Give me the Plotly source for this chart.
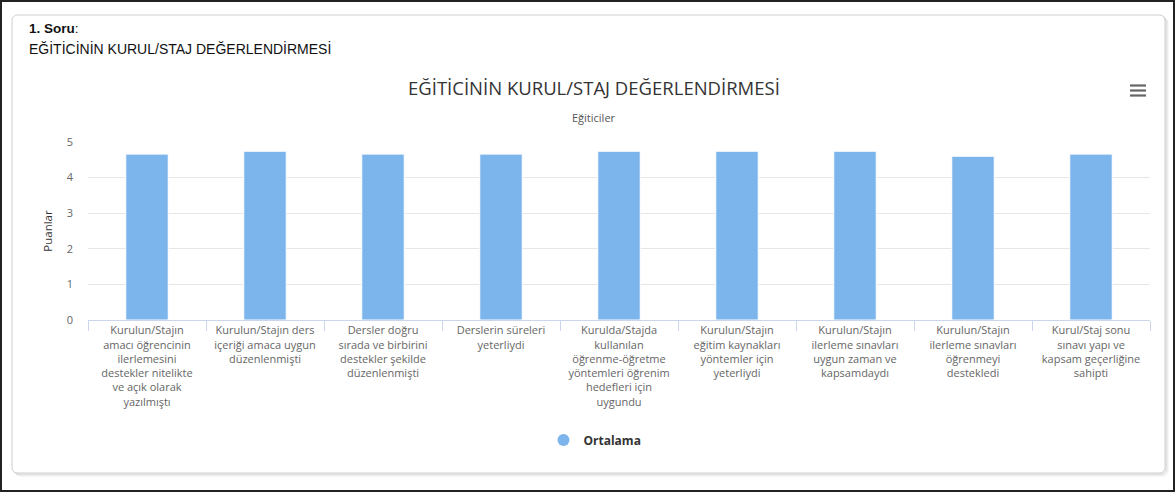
import plotly.graph_objects as go

categories = [
    "Kurulun/Stajın<br>amacı öğrencinin<br>ilerlemesini<br>destekler nitelikte<br>ve açık olarak<br>yazılmıştı",
    "Kurulun/Stajın ders<br>içeriği amaca uygun<br>düzenlenmişti",
    "Dersler doğru<br>sırada ve birbirini<br>destekler şekilde<br>düzenlenmişti",
    "Derslerin süreleri<br>yeterliydi",
    "Kurulda/Stajda<br>kullanılan<br>öğrenme-öğretme<br>yöntemleri öğrenim<br>hedefleri için<br>uygundu",
    "Kurulun/Stajın<br>eğitim kaynakları<br>yöntemler için<br>yeterliydi",
    "Kurulun/Stajın<br>ilerleme sınavları<br>uygun zaman ve<br>kapsamdaydı",
    "Kurulun/Stajın<br>ilerleme sınavları<br>öğrenmeyi<br>destekledi",
    "Kurul/Staj sonu<br>sınavı yapı ve<br>kapsam geçerliğine<br>sahipti",
]
ortalama = [4.66, 4.74, 4.66, 4.66, 4.74, 4.74, 4.74, 4.60, 4.66]
y_ticks = [0, 1, 2, 3, 4, 5]

W, H = 1176, 495
L, R, T, B = 88, 26, 142, 175
PW, PH = W - L - R, H - T - B

def px(x):
    return (x - L) / PW

def py(y):
    return (H - B - y) / PH

BAR = "#7cb5ec"
FONT = "Open Sans"

fig = go.Figure()
fig.add_trace(go.Bar(
    x=categories, y=ortalama, name="Ortalama", marker_color=BAR,
    marker_line_color="white", marker_line_width=1, showlegend=False,
    hovertemplate="%{y}<extra>Ortalama</extra>",
))
fig.add_trace(go.Scatter(
    x=[None], y=[None], mode="markers", name="Ortalama",
    marker=dict(color=BAR, size=12, symbol="circle"), showlegend=True,
))

def rrect(x0, y0, x1, y1, r):
    pts = [
        f"M {px(x0 + r)},{py(y0)}",
        f"L {px(x1 - r)},{py(y0)}",
        f"Q {px(x1)},{py(y0)} {px(x1)},{py(y0 + r)}",
        f"L {px(x1)},{py(y1 - r)}",
        f"Q {px(x1)},{py(y1)} {px(x1 - r)},{py(y1)}",
        f"L {px(x0 + r)},{py(y1)}",
        f"Q {px(x0)},{py(y1)} {px(x0)},{py(y1 - r)}",
        f"L {px(x0)},{py(y0 + r)}",
        f"Q {px(x0)},{py(y0)} {px(x0 + r)},{py(y0)}",
        "Z",
    ]
    return " ".join(pts)

shapes = []
# outer black border
shapes.append(dict(type="rect", xref="paper", yref="paper", layer="below",
                   x0=px(1), y0=py(1), x1=px(1174), y1=py(491),
                   line=dict(color="#222222", width=2), fillcolor="white"))
# shadow of panel
for i, op in [(3, "#f0f0f0"), (2, "#e2e2e2"), (1, "#d4d4d4")]:
    shapes.append(dict(type="path", xref="paper", yref="paper", layer="below",
                       path=rrect(12 + i, 15 + i, 1165 + i, 473 + i, 6),
                       line=dict(color=op, width=1), fillcolor="rgba(0,0,0,0)"))
shapes.append(dict(type="path", xref="paper", yref="paper", layer="below",
                   path=rrect(12, 15, 1165, 473, 6),
                   line=dict(color="#cfcfcf", width=1), fillcolor="white"))
# hamburger menu icon
for yy in [85.5, 90.5, 95.5]:
    shapes.append(dict(type="line", xref="paper", yref="paper",
                       x0=px(1130), x1=px(1146), y0=py(yy), y1=py(yy),
                       line=dict(color="#666666", width=2.2)))

annotations = [
    dict(text="<b>1. Soru</b>:", x=px(27), y=py(28), xref="paper", yref="paper",
         xanchor="left", yanchor="middle", showarrow=False,
         font=dict(family="Liberation Sans, Arial", size=13.5, color="#111111")),
    dict(text="EĞİTİCİNİN KURUL/STAJ DEĞERLENDİRMESİ", x=px(27), y=py(48),
         xref="paper", yref="paper", xanchor="left", yanchor="middle", showarrow=False,
         font=dict(family="Liberation Sans, Arial", size=14, color="#111111")),
    dict(text="EĞİTİCİNİN KURUL/STAJ DEĞERLENDİRMESİ", x=px(594), y=py(88),
         xref="paper", yref="paper", xanchor="center", yanchor="middle", showarrow=False,
         font=dict(family=FONT, size=18.5, color="#333333")),
    dict(text="Eğiticiler", x=px(594), y=py(118),
         xref="paper", yref="paper", xanchor="center", yanchor="middle", showarrow=False,
         font=dict(family=FONT, size=11, color="#555555")),
]

fig.update_layout(
    width=W, height=H,
    margin=dict(l=L, r=R, t=T, b=B, pad=0),
    paper_bgcolor="white", plot_bgcolor="white",
    bargap=0.64,
    font=dict(family=FONT, size=11, color="#666666"),
    shapes=shapes, annotations=annotations,
    showlegend=True,
    legend=dict(orientation="h", x=px(595), xanchor="center", y=py(440), yanchor="middle",
                font=dict(family=FONT, size=12, color="#333333", weight="bold"),
                bgcolor="rgba(0,0,0,0)", itemwidth=30),
    xaxis=dict(
        showline=True, linecolor="#ccd6eb", linewidth=1,
        ticks="outside", tickson="boundaries", ticklen=10, tickcolor="#ccd6eb",
        showgrid=False, tickfont=dict(family=FONT, size=11, color="#666666"),
        tickangle=0, fixedrange=True,
    ),
    yaxis=dict(
        range=[0, 5], tickvals=y_ticks, showgrid=True, gridcolor="#e6e6e6",
        zeroline=False, showline=False, ticks="", ticklabelstandoff=14,
        tickfont=dict(family=FONT, size=11, color="#666666"),
        title=dict(text="Puanlar", font=dict(family=FONT, size=11.5, color="#333333"), standoff=11),
        fixedrange=True,
    ),
)

fig.write_html(
    "out.html",
    config={"displayModeBar": False},
    post_script="document.body.style.margin='0';document.body.style.overflow='hidden';",
)
